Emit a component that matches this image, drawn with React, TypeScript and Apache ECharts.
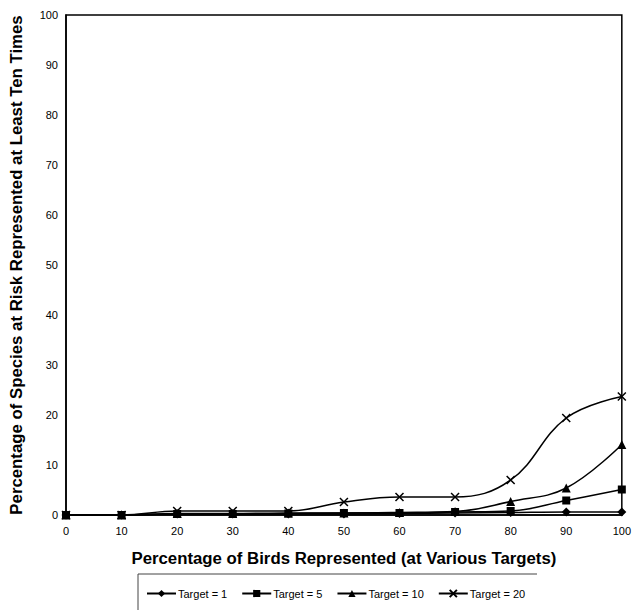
import React, { useEffect, useRef } from "react";
import * as echarts from "echarts";

const xValues = [0, 10, 20, 30, 40, 50, 60, 70, 80, 90, 100];
const target1 = [0, 0, 0.2, 0.2, 0.2, 0.2, 0.3, 0.4, 0.5, 0.6, 0.6];
const target5 = [0, 0, 0.2, 0.2, 0.3, 0.4, 0.4, 0.6, 0.8, 2.9, 5.1];
const target10 = [0, 0, 0.3, 0.3, 0.4, 0.4, 0.5, 0.7, 2.7, 5.4, 14.1];
const target20 = [0, 0, 0.8, 0.8, 0.8, 2.6, 3.6, 3.6, 7.0, 19.4, 23.7];
const seriesNames = ["Target = 1", "Target = 5", "Target = 10", "Target = 20"];

const FONT = "'Liberation Sans', Arial, sans-serif";

export default function App() {
  const ref = useRef<HTMLDivElement>(null);
  useEffect(() => {
    if (!ref.current) return;
    const chart = echarts.init(ref.current, null, { renderer: "svg" });
    const pairs = (ys: number[]) => xValues.map((x, i) => [x, ys[i]]);
    const mk = (name: string, ys: number[], symbol: string, size: number, cross = false) => ({
      name,
      type: "line",
      data: pairs(ys),
      smooth: 0.4,
      symbol,
      symbolSize: size,
      showAllSymbol: true,
      lineStyle: { color: "#000", width: 1.5 },
      itemStyle: cross
        ? { color: "rgba(0,0,0,0)", borderColor: "#000", borderWidth: 1.5 }
        : { color: "#000", borderColor: "#000", borderWidth: 0 },
      emphasis: { disabled: true },
    });
    chart.setOption({
      animation: false,
      backgroundColor: "#fff",
      textStyle: { fontFamily: FONT },
      grid: {
        left: 60,
        top: 15,
        width: 567,
        height: 500,
        show: true,
        borderColor: "#000",
        borderWidth: 1.5,
        backgroundColor: "transparent",
      },
      xAxis: {
        type: "value",
        min: 0,
        max: 100,
        interval: 10,
        name: "Percentage of Birds Represented (at Various Targets)",
        nameLocation: "middle",
        nameGap: 35,
        nameTextStyle: { fontFamily: FONT, fontSize: 16.8, fontWeight: "bold", color: "#000" },
        axisLine: { show: true, lineStyle: { color: "#000", width: 1.5 } },
        axisTick: { show: false },
        splitLine: { show: false },
        axisLabel: { fontFamily: FONT, fontSize: 11, color: "#000", margin: 10 },
      },
      yAxis: {
        type: "value",
        min: 0,
        max: 100,
        interval: 10,
        name: "Percentage of Species at Risk Represented at Least Ten Times",
        nameLocation: "middle",
        nameGap: 41,
        nameTextStyle: { fontFamily: FONT, fontSize: 16.8, fontWeight: "bold", color: "#000" },
        axisLine: { show: true, lineStyle: { color: "#000", width: 1.5 } },
        axisTick: { show: false },
        splitLine: { show: false },
        axisLabel: { fontFamily: FONT, fontSize: 11, color: "#000", margin: 8 },
      },
      legend: {
        data: seriesNames,
        left: 146,
        top: 588,
        itemWidth: 29,
        itemHeight: 9,
        itemGap: 14,
        padding: 0,
        textStyle: { fontFamily: FONT, fontSize: 11, color: "#000", padding: [0, 0, 0, -3] },
      },
      graphic: [
        {
          type: "polyline",
          shape: { points: [[138, 612], [138, 574], [537, 574]] },
          style: { stroke: "#444", lineWidth: 1, fill: "none" },
          silent: true,
        },
      ],
      series: [
        mk(seriesNames[0], target1, "diamond", 9),
        mk(seriesNames[1], target5, "rect", 8),
        mk(seriesNames[2], target10, "triangle", 9),
        mk(seriesNames[3], target20, "path://M0,0L10,10M10,0L0,10", 8, true),
      ],
    });
    return () => chart.dispose();
  }, []);
  return <div ref={ref} style={{ width: 634, height: 610, position: "absolute", left: 0, top: 0 }} />;
}
